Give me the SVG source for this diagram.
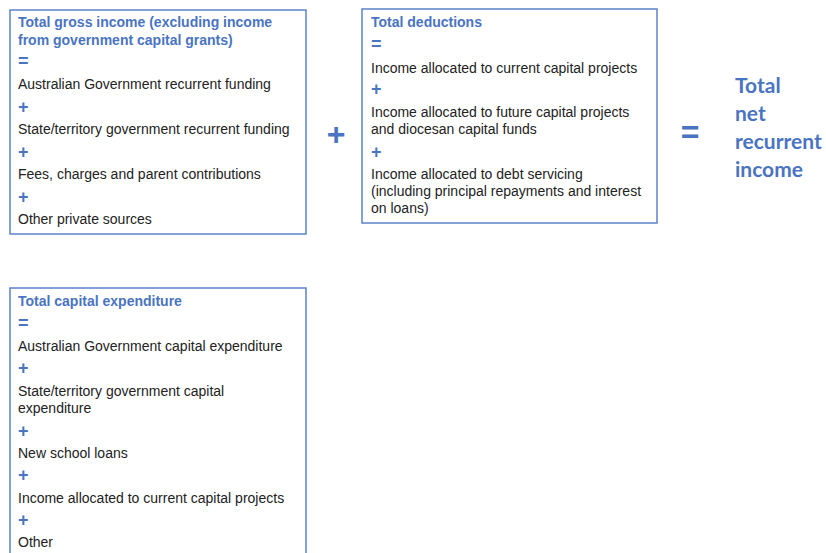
<svg xmlns="http://www.w3.org/2000/svg" width="826" height="553" viewBox="0 0 826 553">
<style>
.box{fill:#fff;stroke:#5b83c9;stroke-width:1.5}
.h{font-family:"Liberation Sans",Arial,sans-serif;font-size:14px;font-weight:bold;fill:#4a74c2}
.t{font-family:"Liberation Sans",Arial,sans-serif;font-size:14px;fill:#222}
.op{font-family:"Liberation Sans",Arial,sans-serif;font-size:18px;font-weight:bold;fill:#4a74c2}
.big{font-family:"Liberation Sans",Arial,sans-serif;font-size:32px;font-weight:bold;fill:#4a74c2}
.res{font-family:Lato,"Open Sans",sans-serif;font-size:21px;font-weight:bold;fill:#4a74c2}
</style>
<rect width="826" height="553" fill="#fff"/>
<g id="gross-income">
<rect class="box" x="10" y="10" width="296" height="224"/>
<text class="h" x="18" y="27">Total gross income (excluding income</text>
<text class="h" x="18" y="45">from government capital grants)</text>
<text class="op" x="18" y="67">=</text>
<text class="t" x="18" y="89">Australian Government recurrent funding</text>
<text class="op" x="18" y="113">+</text>
<text class="t" x="18" y="134">State/territory government recurrent funding</text>
<text class="op" x="18" y="158">+</text>
<text class="t" x="18" y="179">Fees, charges and parent contributions</text>
<text class="op" x="18" y="203">+</text>
<text class="t" x="18" y="224">Other private sources</text>
</g>
<g id="deductions">
<rect class="box" x="362" y="9" width="295" height="214"/>
<text class="h" x="371" y="27">Total deductions</text>
<text class="op" x="371" y="50">=</text>
<text class="t" x="371" y="73">Income allocated to current capital projects</text>
<text class="op" x="371" y="95">+</text>
<text class="t" x="371" y="117">Income allocated to future capital projects</text>
<text class="t" x="371" y="134">and diocesan capital funds</text>
<text class="op" x="371" y="158">+</text>
<text class="t" x="371" y="179">Income allocated to debt servicing</text>
<text class="t" x="371" y="196">(including principal repayments and interest</text>
<text class="t" x="371" y="213">on loans)</text>
</g>
<g id="capital-expenditure">
<rect class="box" x="10" y="288" width="296" height="280"/>
<text class="h" x="18" y="306">Total capital expenditure</text>
<text class="op" x="18" y="329">=</text>
<text class="t" x="18" y="351">Australian Government capital expenditure</text>
<text class="op" x="18" y="374">+</text>
<text class="t" x="18" y="396">State/territory government capital</text>
<text class="t" x="18" y="413">expenditure</text>
<text class="op" x="18" y="437">+</text>
<text class="t" x="18" y="458">New school loans</text>
<text class="op" x="18" y="481">+</text>
<text class="t" x="18" y="503">Income allocated to current capital projects</text>
<text class="op" x="18" y="526">+</text>
<text class="t" x="18" y="547">Other</text>
</g>
<g id="operators">
<text class="big" x="336" y="145" text-anchor="middle">+</text>
<text class="big" x="690" y="143" text-anchor="middle">=</text>
</g>
<g id="result">
<text class="res" x="735" y="93">Total</text>
<text class="res" x="735" y="121">net</text>
<text class="res" x="735" y="149">recurrent</text>
<text class="res" x="735" y="177">income</text>
</g>
</svg>
